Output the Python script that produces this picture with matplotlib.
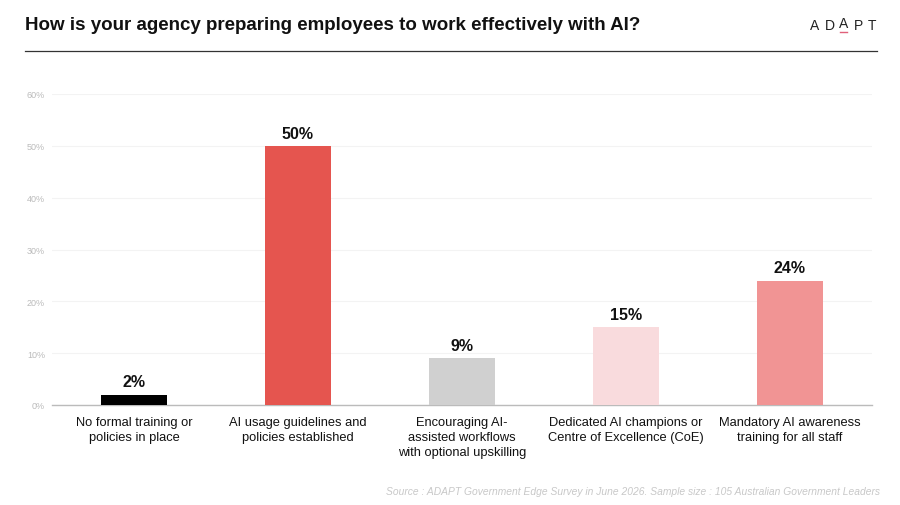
import matplotlib
matplotlib.use("Agg")
import matplotlib.pyplot as plt
from matplotlib.lines import Line2D

categories = [
    "No formal training or\npolicies in place",
    "AI usage guidelines and\npolicies established",
    "Encouraging AI-\nassisted workflows\nwith optional upskilling",
    "Dedicated AI champions or\nCentre of Excellence (CoE)",
    "Mandatory AI awareness\ntraining for all staff",
]
values = [2, 50, 9, 15, 24]
bar_colors = ["#000000", "#E5554F", "#D0D0D0", "#F9DBDD", "#F19494"]
yticks = [0, 10, 20, 30, 40, 50, 60]
ytick_labels = ["0%", "10%", "20%", "30%", "40%", "50%", "60%"]

title = "How is your agency preparing employees to work effectively with AI?"
source = "Source : ADAPT Government Edge Survey in June 2026. Sample size : 105 Australian Government Leaders"

plt.rcParams['font.family'] = ['Liberation Sans', 'DejaVu Sans']

fig = plt.figure(figsize=(9, 5.06), dpi=100)
ax = fig.add_axes([52/900, 100/506, 820/900, 311/506])

x = list(range(len(categories)))
ax.bar(x, values, width=0.4, color=bar_colors, zorder=3)
for xi, v in zip(x, values):
    ax.text(xi, v + 1.0, f"{v}%", ha="center", va="bottom", fontsize=11.5,
            fontweight="bold", color="#111111")

ax.set_xlim(-0.5, len(categories) - 0.5)
ax.set_ylim(0, 60)
ax.set_yticks(yticks)
ax.set_yticklabels(ytick_labels, fontsize=6.5, color="#BBBBBB")
ax.set_xticks(x)
ax.set_xticklabels(categories, fontsize=9.3, color="#111111", linespacing=1.35)
ax.tick_params(axis="both", length=0)
ax.tick_params(axis="y", pad=5)
ax.tick_params(axis="x", pad=8)
ax.grid(axis="y", color="#F3F3F3", linewidth=0.8, zorder=0)
for s in ["top", "right", "left"]:
    ax.spines[s].set_visible(False)
ax.spines["bottom"].set_color("#BBBBBB")
ax.spines["bottom"].set_linewidth(1.0)

fig.text(25/900, 1 - 25/506, title, fontsize=13.5, fontweight="bold",
         color="#111111", ha="left", va="center")
fig.add_artist(Line2D([25/900, 877/900], [1 - 52/506, 1 - 52/506],
                      color="#333333", linewidth=0.9))

# logo
logo_letters = ["A", "D", "A", "P", "T"]
lx0 = 810
for i, ch in enumerate(logo_letters):
    lx = lx0 + i * 14.5
    fig.text(lx/900, 1 - 26/506 + (0.004 if i == 2 else 0), ch, fontsize=10,
             color="#222222", ha="left", va="center")
    if i == 2:
        fig.add_artist(Line2D([(lx + 0.5)/900, (lx + 7.5)/900],
                              [1 - 33/506, 1 - 33/506], color="#E0607A", linewidth=1.0))

fig.text(880/900, 1 - 492/506, source, fontsize=7.4, style="italic",
         color="#C8C8C8", ha="right", va="center")

fig.savefig("out.png", dpi=100)
